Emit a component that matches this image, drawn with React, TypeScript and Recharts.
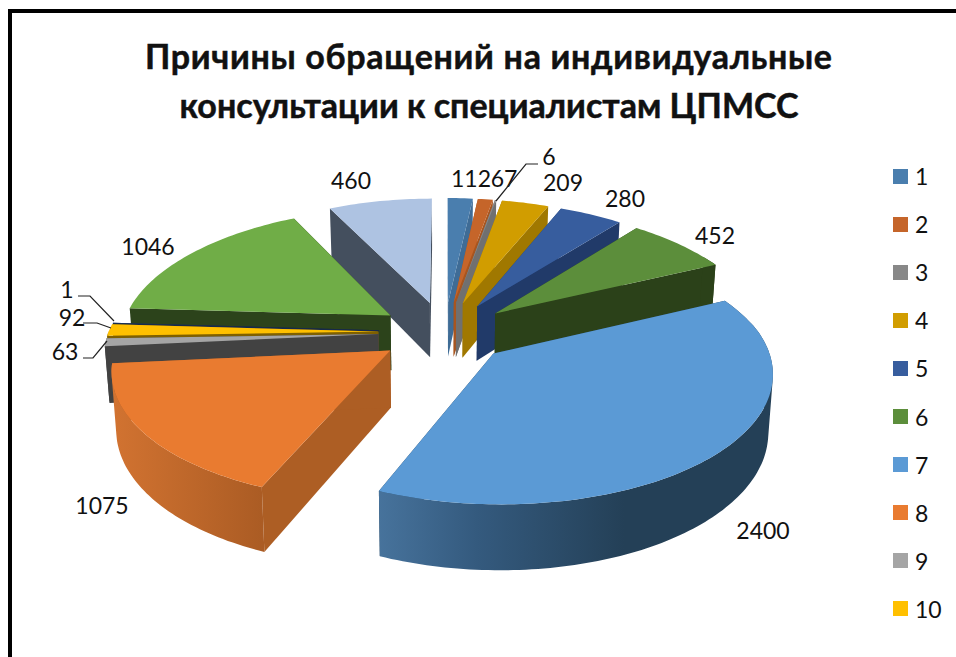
// App.tsx
import { Legend, Pie, PieChart } from "recharts"

const categories = ["1", "2", "3", "4", "5", "6", "7", "8", "9", "10", "11", "12", "13"]
const values = [112, 67, 6, 209, 280, 452, 2400, 1075, 63, 92, 1, 1046, 460]
const legendNames = categories.slice(0, 10)

const topColors = ["#4a7eae", "#c5652a", "#888888", "#d19d00", "#375d9e", "#5c8e3b", "#5b9ad5", "#e97b30", "#a5a5a5", "#ffc000", "#264478", "#70ad47", "#aec3e2"]
const sideColors = ["#3f6c96", "#a8551f", "#707070", "#a07800", "#213a69", "#2b4119", "#244057", "#ad5e24", "#424242", "#7f6000", "#172a4a", "#2c431b", "#444f5e"]
const wallFills = ["", "", "", "", "", "", "url(#wall7)", "url(#wall8)", "#424242", "#7f6000", "", "", ""]

// back to front, so nearer slices cover the ones behind
const paintOrder = [12, 0, 1, 2, 3, 4, 5, 6, 11, 10, 9, 8, 7]

const tableData = categories.map((name, i) => ({ name, value: values[i] }))

const FONT = "Lato, Carlito, 'Open Sans', sans-serif"
const CX = 444.5
const CY = 332
const RADIUS = 270
const FLATTEN = 0.463
const PERSPECTIVE_BACK = 0.16
const PERSPECTIVE_FRONT = 0.13
const EXPLODE = 0.245
const DEPTH = 0.207
const TAPER = 0.014

// where the data labels sit and their leader lines
const labelSpots = [
  [471, 178], [504, 178], [549, 156], [563, 182], [625, 198], [715, 235], [763, 530],
  [102, 505], [65, 351], [72, 317], [67, 289], [148, 246], [351, 180],
]
const leaders: Record<number, string> = {
  2: "538,164 526,164 496,201",
  8: "83,358 93,358 107,341",
  9: "83,323 97,323 111,328",
  10: "78,296 90,296 114,321",
}

function project(u: number, v: number, lift: number) {
  const wx = 1 - (v < 0 ? PERSPECTIVE_BACK : PERSPECTIVE_FRONT) * v
  const wy = 1 - PERSPECTIVE_FRONT * v
  return [
    CX + ((RADIUS * u) / wx) * (1 - TAPER * lift),
    CY + (RADIUS * FLATTEN * v) / wy + (RADIUS * DEPTH * lift) / wy,
  ]
}

const toPath = (pts: number[][]) =>
  "M" + pts.map((p) => p[0].toFixed(1) + " " + p[1].toFixed(1)).join("L") + "Z"

// every quad wound the same way, so the nonzero fill gives their union
function windQuad(q: number[][]) {
  let area = 0
  q.forEach((p, i) => {
    const n = q[(i + 1) % q.length]
    area += p[0] * n[1] - n[0] * p[1]
  })
  return area < 0 ? [...q].reverse() : q
}

function makeSlice(paintIndex: number) {
  return function SliceShape(props: any) {
    if (props.index !== paintIndex) return null
    const a0 = ((90 - props.startAngle) * Math.PI) / 180
    const a1 = ((90 - props.endAngle) * Math.PI) / 180
    const mid = (a0 + a1) / 2
    const ou = EXPLODE * Math.sin(mid)
    const ov = -EXPLODE * Math.cos(mid)

    const rim = (a: number, lift: number) => project(ou + Math.sin(a), ov - Math.cos(a), lift)
    const arc = (from: number, to: number, lift: number) => {
      const out = []
      const steps = Math.max(2, Math.ceil(Math.abs(to - from) / 0.02))
      for (let i = 0; i <= steps; i++) out.push(rim(from + ((to - from) * i) / steps, lift))
      return out
    }
    const apexTop = project(ou, ov, 0)
    const apexLow = project(ou, ov, 1)

    // the back of the rim is hidden under the top face anyway
    const w0 = Math.max(a0, Math.PI / 3)
    const w1 = Math.min(a1, (3 * Math.PI) / 2)
    const side = sideColors[paintIndex]

    let wallPath = ""
    if (w1 > w0) {
      const upper = arc(w0, w1, 0)
      const lower = arc(w0, w1, 1)
      for (let i = 0; i < upper.length - 1; i++) {
        wallPath += toPath(windQuad([upper[i], upper[i + 1], lower[i + 1], lower[i]]))
      }
    }

    return (
      <g>
        <path d={toPath([apexTop, rim(a0, 0), rim(a0, 1), apexLow])} fill={side} />
        <path d={toPath([apexTop, rim(a1, 0), rim(a1, 1), apexLow])} fill={side} />
        {wallPath && <path d={wallPath} fill={wallFills[paintIndex] || side} />}
        <path d={toPath([apexTop, ...arc(a0, a1, 0)])} fill={topColors[paintIndex]} />
      </g>
    )
  }
}

function renderLabel(props: any) {
  const [x, y] = labelSpots[props.index]
  const line = leaders[props.index]
  return (
    <g key={props.index}>
      {line && <polyline points={line} fill="none" stroke="#222" strokeWidth={1.2} />}
      <text x={x} y={y} textAnchor="middle" dominantBaseline="central" fontFamily={FONT} fontSize={23} fill="#111">
        {values[props.index]}
      </text>
    </g>
  )
}

function LegendBox() {
  return (
    <div style={{ fontFamily: FONT, fontSize: 23, color: "#111" }}>
      {legendNames.map((name, i) => (
        <div key={name} style={{ display: "flex", alignItems: "center", height: 48.1 }}>
          <span style={{ width: 15, height: 15, background: topColors[i], marginRight: 7 }} />
          <span>{name}</span>
        </div>
      ))}
    </div>
  )
}

export default function App() {
  return (
    <div style={{ position: "absolute", left: 0, top: 0, width: 956, height: 657, overflow: "hidden", background: "#fff" }}>
      <PieChart width={956} height={657} margin={{ top: 0, right: 0, bottom: 0, left: 0 }}>
        <defs>
          <linearGradient id="wall7" gradientUnits="userSpaceOnUse" x1={378} y1={0} x2={775} y2={0}>
            <stop offset="0" stopColor="#47739c" />
            <stop offset="0.25" stopColor="#345a7e" />
            <stop offset="0.62" stopColor="#244057" />
            <stop offset="1" stopColor="#244057" />
          </linearGradient>
          <linearGradient id="wall8" gradientUnits="userSpaceOnUse" x1={112} y1={0} x2={262} y2={0}>
            <stop offset="0" stopColor="#d27331" />
            <stop offset="1" stopColor="#ab5c24" />
          </linearGradient>
        </defs>
        <rect x={10} y={11} width={1000} height={1000} fill="none" stroke="#000" strokeWidth={4} />
        <text x={488.5} y={55} textAnchor="middle" dominantBaseline="central" fontFamily={FONT} fontSize={34} fontWeight={700} fill="#111" stroke="#111" strokeWidth={0.5} textLength={687} lengthAdjust="spacing">
          Причины обращений на индивидуальные
        </text>
        <text x={489} y={104} textAnchor="middle" dominantBaseline="central" fontFamily={FONT} fontSize={34} fontWeight={700} fill="#111" stroke="#111" strokeWidth={0.5}>
          консультации к специалистам ЦПМСС
        </text>
        {paintOrder.map((sliceIndex) => (
          <Pie
            key={sliceIndex}
            data={tableData}
            dataKey="value"
            nameKey="name"
            cx={CX}
            cy={CY}
            outerRadius={RADIUS}
            startAngle={90}
            endAngle={-270}
            stroke="none"
            legendType="none"
            isAnimationActive={false}
            shape={makeSlice(sliceIndex)}
          />
        ))}
        <Pie
          data={tableData}
          dataKey="value"
          cx={CX}
          cy={CY}
          outerRadius={RADIUS}
          startAngle={90}
          endAngle={-270}
          legendType="none"
          isAnimationActive={false}
          shape={() => null}
          label={renderLabel}
          labelLine={false}
        />
        <Legend content={LegendBox} wrapperStyle={{ position: "absolute", left: 893, top: 152, width: 60 }} />
      </PieChart>
    </div>
  )
}
